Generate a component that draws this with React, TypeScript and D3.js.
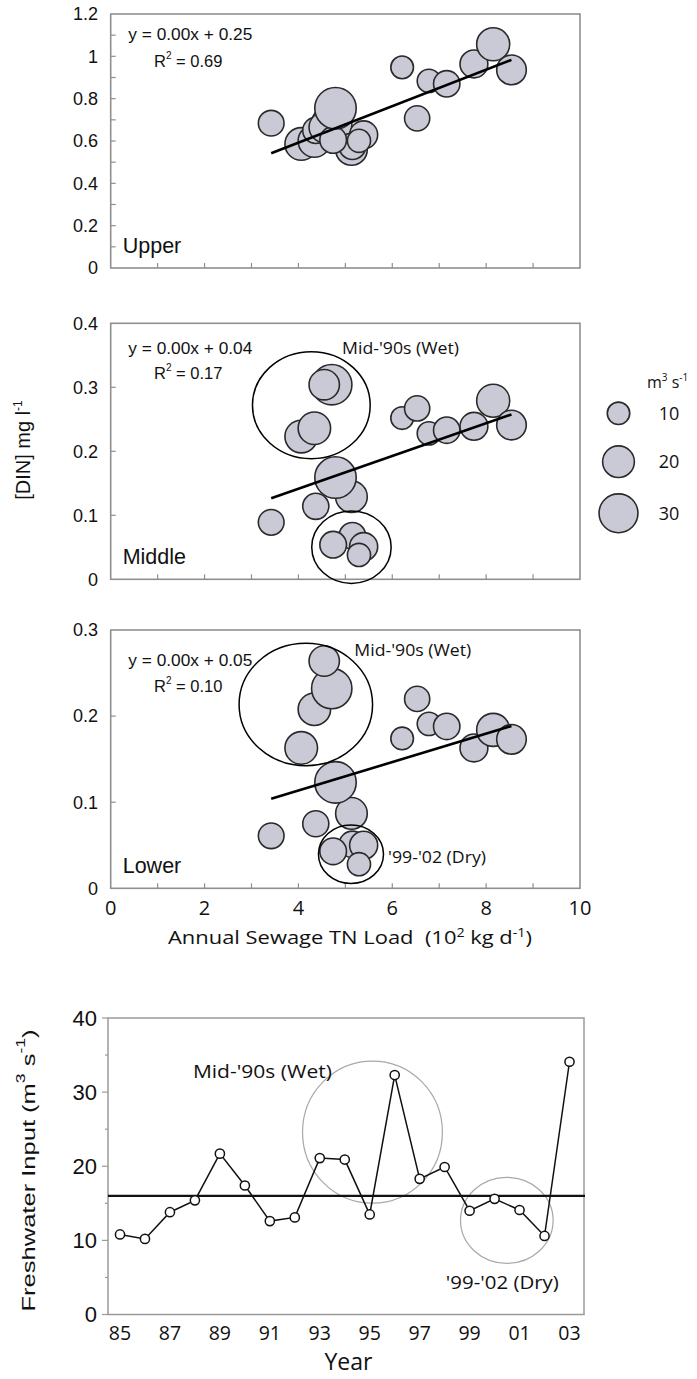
import React from "react";
import * as d3 from "d3";

// ---------- data ----------
const years = [1985, 1986, 1987, 1988, 1989, 1990, 1991, 1992, 1993, 1994, 1995, 1996, 1997, 1998, 1999, 2000, 2001, 2002, 2003];
const yearTickValues = [1985, 1987, 1989, 1991, 1993, 1995, 1997, 1999, 2001, 2003];
const yearTickLabels = ["85", "87", "89", "91", "93", "95", "97", "99", "01", "03"];
const freshwaterFlow = [10.8, 10.2, 13.8, 15.4, 21.7, 17.4, 12.6, 13.1, 21.1, 20.9, 13.5, 32.3, 18.3, 19.9, 14.0, 15.6, 14.1, 10.6, 34.1];
const sewageLoad = [6.78, 6.21, 7.16, 7.74, 8.15, 8.54, 6.53, 3.42, 4.06, 4.34, 4.37, 4.71, 4.55, 5.13, 5.15, 5.39, 4.74, 5.29, 4.79];
const dinUpper = [0.884, 0.948, 0.87, 0.964, 1.057, 0.936, 0.707, 0.684, 0.586, 0.6, 0.65, 0.68, 0.665, 0.56, 0.575, 0.629, 0.605, 0.601, 0.755];
const dinMiddle = [0.228, 0.252, 0.233, 0.239, 0.279, 0.241, 0.267, 0.089, 0.223, 0.236, 0.114, 0.304, 0.304, 0.129, 0.068, 0.051, 0.054, 0.038, 0.159];
const dinLower = [0.191, 0.174, 0.188, 0.163, 0.184, 0.173, 0.22, 0.061, 0.163, 0.208, 0.075, 0.232, 0.264, 0.087, 0.051, 0.05, 0.043, 0.028, 0.123];
const meanFlow = 16.0;

const panelNames = ["Upper", "Middle", "Lower"];
const panelYMax = [1.2, 0.4, 0.3];
const panelTickValues = [
  [0.1, 0.2, 0.3, 0.4, 0.5, 0.6, 0.7, 0.8, 0.9, 1.0, 1.1],
  [0.1, 0.2, 0.3],
  [0.1, 0.2],
];
const panelLabelValues = [
  [0, 0.2, 0.4, 0.6, 0.8, 1.0, 1.2],
  [0, 0.1, 0.2, 0.3, 0.4],
  [0, 0.1, 0.2, 0.3],
];
const fitSlope = [0.0862, 0.0256, 0.0165];
const fitIntercept = [0.247, 0.039, 0.0476];
const eqTexts = ["y = 0.00x + 0.25", "y = 0.00x + 0.04", "y = 0.00x + 0.05"];
const r2Texts = ["0.69", "0.17", "0.10"];
const loadTickLabels = [0, 2, 4, 6, 8, 10];
const legendFlows = [10, 20, 30];

// ---------- layout ----------
const W = 697;
const H = 1379;
const SANS = "'Liberation Sans', Arial, sans-serif";
const MYR = "'Open Sans', 'Noto Sans', sans-serif";
const panelTop = [14, 323.3, 630];
const panelBottom = [268, 579.3, 888.3];
const plotLeft = 110.7;
const plotRight = 580;
const eqY = [1.104, 0.362, 0.265];
const r2Y = [0.978, 0.322, 0.235];
const eqX = 0.375;
const r2X = 0.923;

const scatterEllipses = [
  { panel: 1, cx: 4.275, cy: 0.272, rx: 1.254, ry: 0.0836 },
  { panel: 1, cx: 5.13, cy: 0.0502, rx: 0.846, ry: 0.0566 },
  { panel: 2, cx: 4.158, cy: 0.2135, rx: 1.422, ry: 0.0711 },
  { panel: 2, cx: 5.12, cy: 0.0396, rx: 0.693, ry: 0.0339 },
];
const scatterNotes = [
  { panel: 1, x: 4.93, y: 0.361, text: "Mid-'90s (Wet)", w: 117 },
  { panel: 2, x: 5.19, y: 0.2768, text: "Mid-'90s (Wet)", w: 117 },
  { panel: 2, x: 5.91, y: 0.0367, text: "'99-'02 (Dry)", w: 98 },
];
const flowEllipses = [
  { cx: 1995.11, cy: 24.6, rx: 2.8, ry: 9.58 },
  { cx: 2000.49, cy: 12.7, rx: 1.854, ry: 5.8 },
];
const flowNotes = [
  { x: 1987.92, y: 32.75, text: "Mid-'90s (Wet)", w: 139 },
  { x: 1998.05, y: 4.25, text: "'99-'02 (Dry)", w: 113 },
];

const FRAME = "#8f8f8f";
const BUBBLE_FILL = "#c9cad6";
const BUBBLE_STROKE = "#2a2a2a";

const rScale = d3.scaleSqrt().domain([0, 35]).range([0, 21]);
const xLoad = d3.scaleLinear().domain([0, 10]).range([plotLeft, plotRight]);

function Panel({ idx }: { idx: number }) {
  const din = [dinUpper, dinMiddle, dinLower][idx];
  const y = d3.scaleLinear().domain([0, panelYMax[idx]]).range([panelBottom[idx], panelTop[idx]]);
  const top = panelTop[idx];
  const bottom = panelBottom[idx];
  const xmin = d3.min(sewageLoad) as number;
  const xmax = d3.max(sewageLoad) as number;
  const fit = (v: number) => fitSlope[idx] * v + fitIntercept[idx];
  const fmt = (v: number) => (v === 0 ? "0" : v === 1 ? "1" : d3.format(".1f")(v));
  return (
    <g>
      {panelTickValues[idx].map((t) => (
        <line key={"yt" + t} x1={plotLeft} x2={plotLeft + 5} y1={y(t)} y2={y(t)} stroke={FRAME} strokeWidth={1.2} />
      ))}
      {d3.range(1, 10).map((t) => (
        <line key={"xt" + t} x1={xLoad(t)} x2={xLoad(t)} y1={bottom} y2={bottom - 5} stroke={FRAME} strokeWidth={1.2} />
      ))}
      <rect x={plotLeft} y={top} width={plotRight - plotLeft} height={bottom - top} fill="none" stroke={FRAME} strokeWidth={1.6} />
      {panelLabelValues[idx].map((t) => (
        <text key={"yl" + t} x={98} y={y(t)} dy="0.35em" textAnchor="end" fontFamily={SANS} fontSize={18} fill="#111">
          {fmt(t)}
        </text>
      ))}
      {years.map((yr, i) => (
        <circle key={yr} cx={xLoad(sewageLoad[i])} cy={y(din[i])} r={rScale(freshwaterFlow[i])} fill={BUBBLE_FILL} stroke={BUBBLE_STROKE} strokeWidth={1.6} />
      ))}
      <line x1={xLoad(xmin)} x2={xLoad(xmax)} y1={y(fit(xmin))} y2={y(fit(xmax))} stroke="#000" strokeWidth={2.6} />
      {scatterEllipses.filter((e) => e.panel === idx).map((e, k) => (
        <ellipse key={"el" + k} cx={xLoad(e.cx)} cy={y(e.cy)} rx={xLoad(e.cx + e.rx) - xLoad(e.cx)} ry={y(e.cy) - y(e.cy + e.ry)} fill="none" stroke="#000" strokeWidth={1.5} />
      ))}
      {scatterNotes.filter((n) => n.panel === idx).map((n, k) => (
        <text key={"nt" + k} x={xLoad(n.x)} y={y(n.y)} dy="0.36em" fontFamily={MYR} fontSize={17} fill="#111" textLength={n.w} lengthAdjust="spacingAndGlyphs">
          {n.text}
        </text>
      ))}
      <text x={xLoad(eqX)} y={y(eqY[idx])} dy="0.36em" fontFamily={SANS} fontSize={16.5} fill="#111" textLength={124} lengthAdjust="spacingAndGlyphs">
        {eqTexts[idx]}
      </text>
      <text x={xLoad(r2X)} y={y(r2Y[idx])} dy="0.36em" fontFamily={SANS} fontSize={16.5} fill="#111">
        <tspan>R</tspan>
        <tspan dy={-8} fontSize={10}>2</tspan>
        <tspan dy={8}> = {r2Texts[idx]}</tspan>
      </text>
      <text x={plotLeft + 12} y={bottom - 15.5} fontFamily={SANS} fontSize={21.5} fill="#111">
        {panelNames[idx]}
      </text>
    </g>
  );
}

function Legend() {
  const ys = [413.3, 461.7, 513.3];
  return (
    <g>
      <text x={647} y={388} fontFamily={MYR} fontSize={16} fill="#111">
        <tspan>m</tspan>
        <tspan dy={-7} fontSize={10}>3</tspan>
        <tspan dy={7}> s</tspan>
        <tspan dy={-7} fontSize={10}>-1</tspan>
      </text>
      {legendFlows.map((f, i) => (
        <g key={f}>
          <circle cx={618.5} cy={ys[i]} r={rScale(f)} fill={BUBBLE_FILL} stroke={BUBBLE_STROKE} strokeWidth={1.6} />
          <text x={669} y={ys[i]} dy="0.36em" textAnchor="middle" fontFamily={MYR} fontSize={18} fill="#111">
            {f}
          </text>
        </g>
      ))}
    </g>
  );
}

function FlowChart() {
  const x = d3.scaleLinear().domain([1985, 2003]).range([120, 569.5]);
  const y = d3.scaleLinear().domain([0, 40]).range([1314.5, 1018]);
  const fl = 108;
  const fr = 584;
  const line = d3.line<number>().x((_, i) => x(years[i])).y((d) => y(d));
  return (
    <g>
      <rect x={fl} y={y(40)} width={fr - fl} height={y(0) - y(40)} fill="none" stroke="#9a9a9a" strokeWidth={1.5} />
      {d3.range(0, 41, 5).map((t) => (
        <line key={t} x1={fl} x2={fl - (t % 10 === 0 ? 6 : 3)} y1={y(t)} y2={y(t)} stroke="#9a9a9a" strokeWidth={1.2} />
      ))}
      {[0, 10, 20, 30, 40].map((t) => (
        <text key={t} x={97} y={y(t)} dy="0.36em" textAnchor="end" fontFamily={SANS} fontSize={22} fill="#111">
          {t}
        </text>
      ))}
      {yearTickValues.map((v, i) => (
        <text key={v} x={x(v)} y={1340} textAnchor="middle" fontFamily={MYR} fontSize={19.5} fill="#111">
          {yearTickLabels[i]}
        </text>
      ))}
      <text x={348.5} y={1370} textAnchor="middle" fontFamily={MYR} fontSize={23} fill="#111">
        Year
      </text>
      <text transform="translate(35,1170.5) rotate(-90)" textAnchor="middle" fontFamily={SANS} fontSize={17.5} fill="#111" textLength={282} lengthAdjust="spacingAndGlyphs">
        <tspan>Freshwater Input (m</tspan>
        <tspan dy={-10} fontSize={12}>3</tspan>
        <tspan dy={10}> s</tspan>
        <tspan dy={-10} fontSize={12}>-1</tspan>
        <tspan dy={10}>)</tspan>
      </text>
      {flowEllipses.map((e, k) => (
        <ellipse key={k} cx={x(e.cx)} cy={y(e.cy)} rx={x(e.cx + e.rx) - x(e.cx)} ry={y(e.cy) - y(e.cy + e.ry)} fill="none" stroke="#a8a8a8" strokeWidth={1.2} />
      ))}
      <line x1={fl} x2={fr + 1} y1={y(meanFlow)} y2={y(meanFlow)} stroke="#111" strokeWidth={2.4} />
      <path d={line(freshwaterFlow) || ""} fill="none" stroke="#111" strokeWidth={1.5} />
      {freshwaterFlow.map((d, i) => (
        <circle key={i} cx={x(years[i])} cy={y(d)} r={4.6} fill="#fff" stroke="#111" strokeWidth={1.5} />
      ))}
      {flowNotes.map((n, k) => (
        <text key={k} x={x(n.x)} y={y(n.y)} dy="0.36em" fontFamily={MYR} fontSize={18} fill="#111" textLength={n.w} lengthAdjust="spacingAndGlyphs">
          {n.text}
        </text>
      ))}
    </g>
  );
}

export default function App() {
  return (
    <svg width={W} height={H} viewBox={`0 0 ${W} ${H}`} style={{ position: "absolute", left: 0, top: 0, background: "#fff" }}>
      <rect x={0} y={0} width={W} height={H} fill="#fff" />
      {[0, 1, 2].map((i) => (
        <Panel key={i} idx={i} />
      ))}
      {loadTickLabels.map((t) => (
        <text key={t} x={xLoad(t)} y={915} textAnchor="middle" fontFamily={MYR} fontSize={20} fill="#111">
          {t}
        </text>
      ))}
      <text x={350} y={944} textAnchor="middle" fontFamily={MYR} fontSize={18.5} fill="#111" textLength={364} lengthAdjust="spacingAndGlyphs">
        <tspan>{"Annual Sewage TN Load\u00a0\u00a0(10"}</tspan>
        <tspan dy={-7} fontSize={12}>2</tspan>
        <tspan dy={7}> kg d</tspan>
        <tspan dy={-7} fontSize={12}>-1</tspan>
        <tspan dy={7}>)</tspan>
      </text>
      <text transform="translate(30,450) rotate(-90)" textAnchor="middle" fontFamily={SANS} fontSize={20} fill="#111">
        <tspan>[DIN] mg l</tspan>
        <tspan dy={-8} fontSize={12}>-1</tspan>
      </text>
      <Legend />
      <FlowChart />
    </svg>
  );
}
